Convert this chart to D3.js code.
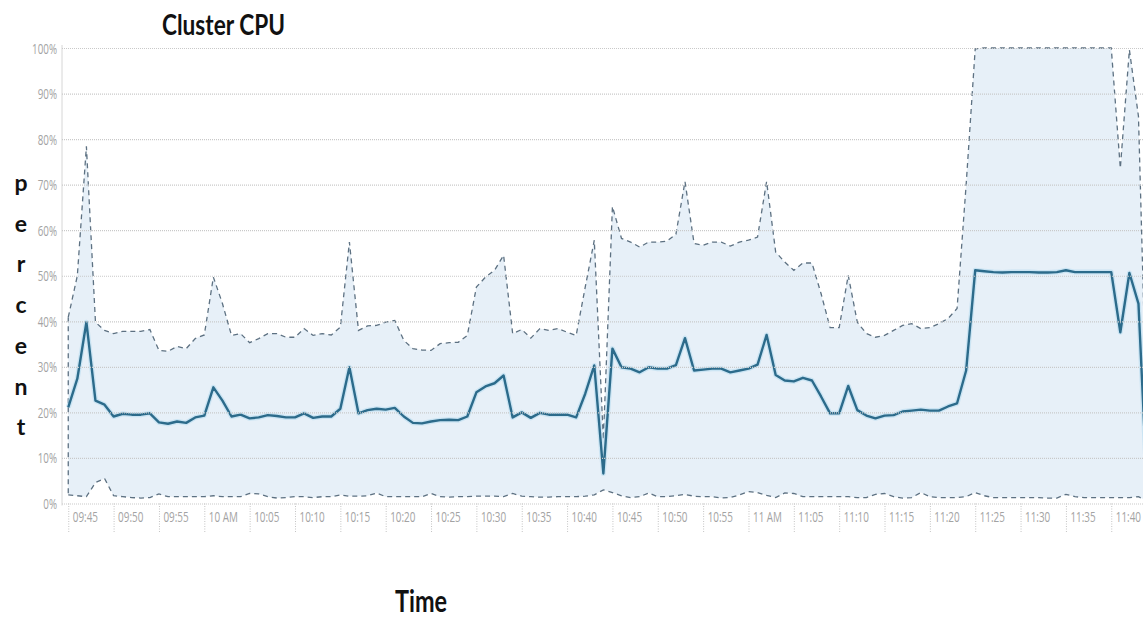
<!DOCTYPE html>
<html><head><meta charset="utf-8">
<script src="https://cdn.jsdelivr.net/npm/d3@7"></script>
<style>body{margin:0;background:#fff}svg{display:block}</style>
</head><body>
<svg id="c" width="1143" height="619"></svg>
<script>
// ---------- data ----------
const chartTitle = "Cluster CPU";
const xTitle = "Time";
const yTitleLetters = ["p","e","r","c","e","n","t"];
const startTime = "09:45"; // one sample per minute
const xTickMinutes = [0,5,10,15,20,25,30,35,40,45,50,55,60,65,70,75,80,85,90,95,100,105,110,115];
const xTickLabels = ["09:45","09:50","09:55","10 AM","10:05","10:10","10:15","10:20","10:25","10:30","10:35","10:40",
                     "10:45","10:50","10:55","11 AM","11:05","11:10","11:15","11:20","11:25","11:30","11:35","11:40"];
const yTicks = [0,10,20,30,40,50,60,70,80,90,100];

const avgCpu = [
 21.1,27.4,39.8,22.6,21.7,19.1,19.7,19.5,19.5,19.8,
 17.8,17.5,18.0,17.7,18.9,19.3,25.5,22.6,19.1,19.5,
 18.7,18.9,19.4,19.2,18.9,18.9,19.8,18.8,19.1,19.1,
 20.8,29.9,19.8,20.5,20.8,20.6,21.0,19.1,17.7,17.6,
 18.0,18.3,18.4,18.3,19.1,24.4,25.7,26.4,28.1,18.9,
 20.0,18.8,19.9,19.5,19.5,19.5,18.9,24.1,30.3,6.6,
 34.0,29.9,29.6,28.8,29.9,29.6,29.6,30.4,36.3,29.2,
 29.4,29.6,29.6,28.8,29.2,29.6,30.5,37.0,28.2,27.0,
 26.8,27.6,27.0,23.5,19.8,19.8,25.8,20.5,19.3,18.7,
 19.3,19.4,20.2,20.4,20.6,20.4,20.4,21.3,22.0,29.2,
 51.2,51.0,50.8,50.7,50.8,50.8,50.8,50.7,50.7,50.8,
 51.2,50.8,50.8,50.8,50.8,50.8,37.6,50.6,43.9,1.0];

const maxCpu = [
 40.9,50.0,78.4,39.8,38.0,37.3,37.8,37.8,37.8,38.2,
 33.6,33.4,34.5,34.0,36.2,37.0,49.7,43.9,36.9,37.3,
 35.3,36.2,37.3,37.3,36.5,36.5,38.4,36.9,37.3,37.0,
 38.7,57.4,38.0,39.0,39.1,39.8,40.2,35.8,34.0,33.7,
 33.6,35.1,35.3,35.4,36.9,47.5,49.7,51.2,54.5,37.3,
 38.2,36.3,38.4,38.0,38.4,37.6,36.9,47.5,57.8,14.0,
 65.2,58.2,57.4,56.3,57.4,57.4,57.6,59.1,70.7,57.1,
 56.7,57.4,57.4,56.5,57.4,57.8,58.5,70.7,55.2,53.0,
 51.2,52.8,52.8,46.1,38.6,38.6,50.1,39.8,37.3,36.5,
 36.9,38.0,39.1,39.5,38.4,38.6,39.5,40.6,42.8,70.0,
 99.8,100,100,100,100,100,100,100,100,100,
 100,100,100,100,100,100,73.6,99.6,85.0,12.0];

const minCpu = [
 1.9,1.7,1.5,4.6,5.5,1.7,1.5,1.3,1.2,1.3,
 2.1,1.5,1.5,1.5,1.5,1.5,1.7,1.5,1.5,1.5,
 2.2,2.1,1.5,1.2,1.3,1.5,1.5,1.3,1.5,1.5,
 1.9,1.6,1.6,1.7,2.3,1.5,1.5,1.5,1.5,1.5,
 2.2,1.5,1.4,1.5,1.5,1.6,1.6,1.6,1.5,2.2,
 1.6,1.5,1.4,1.4,1.5,1.5,1.5,1.6,1.9,3.0,
 2.4,1.7,1.3,1.5,2.3,1.5,1.5,1.7,2.0,1.6,
 1.5,1.5,1.2,1.3,1.9,2.6,2.4,1.8,1.3,2.3,
 2.2,1.5,1.5,1.5,1.5,1.5,1.5,1.3,1.3,2.0,
 2.2,1.5,1.2,1.3,2.4,1.5,1.3,1.3,1.3,1.5,
 2.4,1.7,1.3,1.3,1.3,1.3,1.3,1.3,1.2,1.2,
 2.0,1.5,1.3,1.3,1.3,1.3,1.3,1.3,1.5,0.5];

// ---------- layout ----------
const W = 1143, H = 619;
const plot = {left: 62, right: 1143, top: 48, bottom: 503.5};
const svg = d3.select("#c");

const x = d3.scaleLinear().domain([-0.69, 118.5]).range([plot.left, plot.right]);
const y = d3.scaleLinear().domain([0, 100]).range([plot.bottom, plot.top]);

const rows = avgCpu.map((v, i) => ({m: i, avg: v, max: maxCpu[i], min: minCpu[i]}));

svg.append("defs").append("clipPath").attr("id", "clip")
  .append("rect").attr("x", plot.left).attr("y", plot.top - 6)
  .attr("width", plot.right - plot.left).attr("height", plot.bottom - plot.top + 12);

// left border
svg.append("line").attr("x1", plot.left).attr("x2", plot.left)
  .attr("y1", plot.top - 3).attr("y2", plot.bottom + 2)
  .attr("stroke", "#d6d6d6").attr("stroke-width", 1);

// area range
const area = d3.area().x(d => x(d.m)).y0(d => y(d.min)).y1(d => y(d.max));
const g = svg.append("g").attr("clip-path", "url(#clip)");
g.append("path").datum(rows).attr("d", area).attr("fill", "#e7f0f8");

// horizontal grid
const yAxis = d3.axisLeft(y).tickValues(yTicks).tickFormat(d => d + "%")
  .tickSize(-(plot.right - plot.left)).tickPadding(0);
const yg = svg.append("g").attr("transform", `translate(${plot.left},0)`).call(yAxis);
yg.select(".domain").remove();
yg.selectAll(".tick line").attr("stroke", "#c9c9c9").attr("stroke-dasharray", "1,1").attr("stroke-width", 1.2);
yg.selectAll(".tick text")
  .attr("x", null).attr("dy", null).attr("text-anchor", "end")
  .attr("transform", "translate(-5,5) scale(0.7,1)")
  .attr("fill", "#a3a3a3").style("font-family", "'Open Sans', sans-serif").style("font-size", "14px");

// vertical grid + labels
const xAxis = d3.axisBottom(x).tickValues(xTickMinutes)
  .tickFormat((d, i) => xTickLabels[i]).tickSize(-(plot.bottom - plot.top)).tickPadding(0);
const xg = svg.append("g").attr("transform", `translate(0,${plot.bottom})`).call(xAxis);
xg.select(".domain").remove();
xg.selectAll(".tick line").attr("stroke", "#c4c4c4").attr("stroke-dasharray", "1,1.5")
  .attr("y2", 29);
xg.selectAll(".tick text")
  .attr("y", null).attr("dy", null).attr("text-anchor", "start")
  .attr("transform", "translate(4,18.5) scale(0.66,1)")
  .attr("fill", "#a3a3a3").style("font-family", "'Open Sans', sans-serif").style("font-size", "15px");

// dashed outline of range (upper, lower)
const lineMax = d3.line().x(d => x(d.m)).y(d => y(d.max));
const lineMin = d3.line().x(d => x(d.m)).y(d => y(d.min));
g.append("line").attr("x1", x(0)).attr("x2", x(0)).attr("y1", y(maxCpu[0])).attr("y2", y(minCpu[0]))
  .attr("stroke", "#5d7182").attr("stroke-width", 1.3).attr("stroke-dasharray", "5,4");
g.append("path").datum(rows).attr("d", lineMax).attr("fill", "none")
  .attr("stroke", "#5d7182").attr("stroke-width", 1.3).attr("stroke-dasharray", "5,4");
g.append("path").datum(rows).attr("d", lineMin).attr("fill", "none")
  .attr("stroke", "#5d7182").attr("stroke-width", 1.3).attr("stroke-dasharray", "5,4");

// average line
const lineAvg = d3.line().x(d => x(d.m)).y(d => y(d.avg));
g.append("path").datum(rows).attr("d", lineAvg).attr("fill", "none")
  .attr("stroke", "#b7dcf0").attr("stroke-width", 5).attr("stroke-opacity", 0.6).attr("stroke-linejoin", "round");
g.append("path").datum(rows).attr("d", lineAvg).attr("fill", "none")
  .attr("stroke", "#2c6b8b").attr("stroke-width", 2.4).attr("stroke-linejoin", "round");

// titles
svg.append("text").text(chartTitle).attr("x", 162).attr("y", 35)
  .attr("textLength", 123).attr("lengthAdjust", "spacingAndGlyphs")
  .style("font-family", "Lato, sans-serif").style("font-weight", "bold").style("font-size", "29px").attr("fill", "#111");
svg.append("text").text(xTitle).attr("x", 395).attr("y", 612)
  .attr("textLength", 52).attr("lengthAdjust", "spacingAndGlyphs")
  .style("font-family", "Lato, sans-serif").style("font-weight", "bold").style("font-size", "31px").attr("fill", "#111");
svg.append("g").selectAll("text").data(yTitleLetters).join("text")
  .text(d => d).attr("x", 21).attr("y", (d, i) => 191 + i * 40.7).attr("text-anchor", "middle")
  .style("font-family", "Lato, sans-serif").style("font-weight", "bold").style("font-size", "23px").attr("fill", "#111");
</script>
</body></html>
